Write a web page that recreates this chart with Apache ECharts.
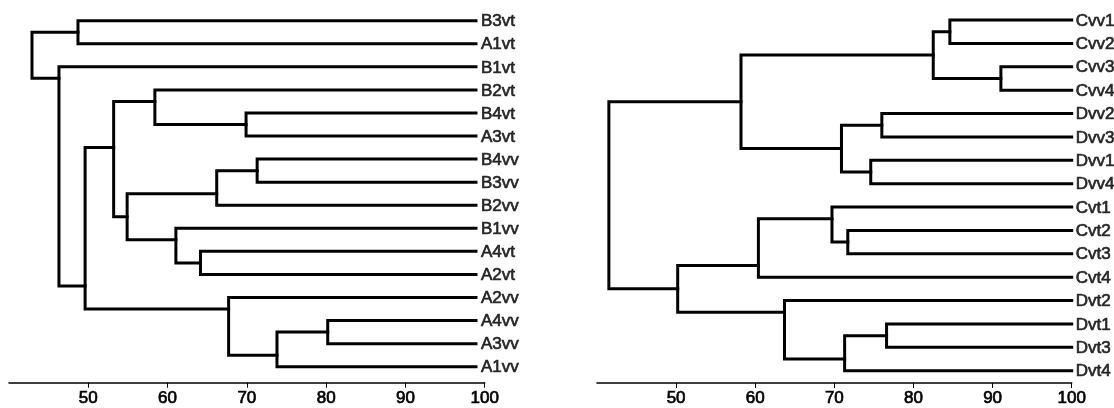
<!DOCTYPE html>
<html>
<head>
<meta charset="utf-8">
<title>dendrogram</title>
<script src="https://cdn.jsdelivr.net/npm/echarts@6/dist/echarts.min.js"></script>
<style>
html,body{margin:0;padding:0;background:#fff;}
#main{width:1114px;height:408px;}
</style>
</head>
<body>
<div id="main"></div>
<script>
// 刻度
var tickValues = [50, 60, 70, 80, 90, 100];

// 左图：叶子顺序(从上到下)
var leftLeaves = ['B3vt','A1vt','B1vt','B2vt','B4vt','A3vt','B4vv','B3vv','B2vv','B1vv','A4vt','A2vt','A2vv','A4vv','A3vv','A1vv'];
// 合并：[子节点A, 子节点B, 相似度]，编号>=16 为前面的合并节点
var leftMerges = [
	[0, 1, 48.7],
	[4, 5, 69.9],
	[3, 17, 58.4],
	[6, 7, 71.3],
	[19, 8, 66.2],
	[10, 11, 64.15],
	[9, 21, 61.05],
	[20, 22, 54.9],
	[18, 23, 53.2],
	[13, 14, 80.2],
	[25, 15, 73.8],
	[12, 26, 67.7],
	[24, 27, 49.6],
	[2, 28, 46.3],
	[16, 29, 42.9]
];
var leftLeafEnd = 98.9;

// 右图
var rightLeaves = ['Cvv1','Cvv2','Cvv3','Cvv4','Dvv2','Dvv3','Dvv1','Dvv4','Cvt1','Cvt2','Cvt3','Cvt4','Dvt2','Dvt1','Dvt3','Dvt4'];
var rightMerges = [
	[0, 1, 84.6],
	[2, 3, 91.05],
	[16, 17, 82.5],
	[4, 5, 76.0],
	[6, 7, 74.6],
	[19, 20, 70.9],
	[18, 21, 58.2],
	[9, 10, 71.7],
	[8, 23, 69.7],
	[24, 11, 60.4],
	[13, 14, 76.6],
	[26, 15, 71.3],
	[12, 27, 63.7],
	[25, 28, 50.2],
	[22, 29, 41.5]
];
var rightLeafEnd = 100;

var fontFamily = '"Liberation Sans", Arial, sans-serif';

// 由合并表生成折线
function buildTree(leaves, merges, leafEnd, idx, labelGap){
	var nodes = [];
	var series = [];
	for(var i=0;i<leaves.length;i++){
		nodes.push({x: leafEnd, y: i, maxRow: i});
	}
	for(var j=0;j<merges.length;j++){
		var a = nodes[merges[j][0]];
		var b = nodes[merges[j][1]];
		var h = merges[j][2];
		nodes.push({x: h, y: a.maxRow + 0.5, maxRow: Math.max(a.maxRow, b.maxRow)});
		series.push({
			type: 'line',
			xAxisIndex: idx,
			yAxisIndex: idx,
			data: [[a.x, a.y], [h, a.y], [h, b.y], [b.x, b.y]],
			symbol: 'none',
			clip: false,
			silent: true,
			lineStyle: {color: '#000', width: 3, cap: 'square', join: 'miter'}
		});
	}
	//叶子标签
	series.push({
		type: 'scatter',
		xAxisIndex: idx,
		yAxisIndex: idx,
		symbolSize: 0,
		clip: false,
		silent: true,
		data: leaves.map(function(n, i){ return {name: n, value: [leafEnd, i]}; }),
		label: {
			show: true,
			position: 'right',
			distance: labelGap,
			offset: [0, 1],
			formatter: '{b}',
			color: '#000',
			fontSize: 17,
			fontFamily: fontFamily,
			textBorderColor: '#000',
			textBorderWidth: 0.7
		}
	});
	return series;
}

function makeX(idx, off){
	return {
		gridIndex: idx,
		type: 'value',
		position: 'bottom',
		min: 40,
		max: 100,
		offset: off,
		splitLine: {show: false},
		axisLine: {onZero: false, lineStyle: {color: '#000', width: 1.5}},
		axisTick: {customValues: tickValues, length: 5, lineStyle: {color: '#000', width: 1}},
		axisLabel: {
			customValues: tickValues, color: '#000', fontSize: 17, margin: 7, fontFamily: fontFamily,
			textBorderColor: '#000', textBorderWidth: 0.7
		}
	};
}

var myChart = echarts.init(document.getElementById('main'));
var option = {
	animation: false,
	grid: [
		{left: 9, top: 20.7, width: 475.7, height: 346},
		{left: 597, top: 20, width: 474.7, height: 350.7}
	],
	xAxis: [makeX(0, 16), makeX(1, 12.3)],
	yAxis: [
		{gridIndex: 0, type: 'value', min: 0, max: 15, inverse: true, show: false},
		{gridIndex: 1, type: 'value', min: 0, max: 15, inverse: true, show: false}
	],
	series: buildTree(leftLeaves, leftMerges, leftLeafEnd, 0, 5)
		.concat(buildTree(rightLeaves, rightMerges, rightLeafEnd, 1, 4))
};
myChart.setOption(option);
</script>
</body>
</html>
